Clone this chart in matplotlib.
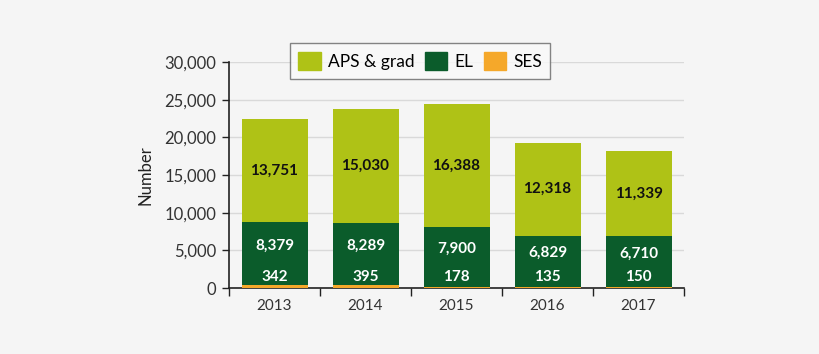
import numpy as np
import matplotlib.pyplot as plt
from matplotlib.patches import Patch

# data
years = ["2013", "2014", "2015", "2016", "2017"]
ses = [342, 395, 178, 135, 150]
el = [8379, 8289, 7900, 6829, 6710]
aps = [13751, 15030, 16388, 12318, 11339]

c_aps = "#afc216"
c_el = "#0b5c2b"
c_ses = "#f5a82a"
bg = "#f5f5f5"

plt.rcParams["font.family"] = ["Lato", "DejaVu Sans"]

fig = plt.figure(figsize=(8.2, 3.54), dpi=100, facecolor=bg)
ax = fig.add_axes([0.2793, 0.1864, 0.5549, 0.6384], facecolor=bg)

x = np.arange(len(years))
w = 0.725
ses = np.array(ses)
el = np.array(el)
aps = np.array(aps)

ax.bar(x, ses, w, color=c_ses, zorder=3)
ax.bar(x, el, w, bottom=ses, color=c_el, zorder=3)
ax.bar(x, aps, w, bottom=ses + el, color=c_aps, zorder=3)

# labels
for i in range(len(years)):
    ax.text(x[i], ses[i] + el[i] + aps[i] / 2, f"{aps[i]:,}", ha="center", va="center",
            fontsize=11, fontweight="bold", color="#111111", zorder=4)
    ax.text(x[i], ses[i] + el[i] / 2 + 1100, f"{el[i]:,}", ha="center", va="center",
            fontsize=11, fontweight="bold", color="white", zorder=4)
    ax.text(x[i], 1450, f"{ses[i]:,}", ha="center", va="center",
            fontsize=11, fontweight="bold", color="white", zorder=4)

ax.set_xlim(-0.5, len(years) - 0.5)
ax.set_ylim(0, 30000)
ax.set_yticks(np.arange(0, 30001, 5000))
ax.set_yticklabels([f"{v:,}" for v in range(0, 30001, 5000)])
ax.yaxis.grid(True, color="#d9d9d9", linewidth=1, zorder=0)

# category boundary ticks, labels centred
ax.set_xticks(np.arange(-0.5, len(years)), minor=False)
ax.set_xticklabels([])
ax.set_xticks(x, minor=True)
ax.set_xticklabels(years, minor=True)
ax.tick_params(axis="x", which="major", length=6, width=1, color="#222222", direction="out")
ax.tick_params(axis="x", which="minor", length=0, pad=8, labelsize=11, labelcolor="#333333")
ax.tick_params(axis="y", length=5, width=1, color="#222222", labelsize=12, labelcolor="#333333", pad=4)

for s in ["top", "right"]:
    ax.spines[s].set_visible(False)
for s in ["left", "bottom"]:
    ax.spines[s].set_color("#222222")
    ax.spines[s].set_linewidth(1.2)

ax.set_ylabel("Number", fontsize=12, color="#222222", labelpad=8)

handles = [Patch(color=c_aps, label="APS & grad"), Patch(color=c_el, label="EL"),
           Patch(color=c_ses, label="SES")]
leg = fig.legend(handles=handles, loc="center", bbox_to_anchor=(420 / 820, 1 - 61 / 354),
                 ncol=3, fontsize=12.5, frameon=True, fancybox=False,
                 handlelength=1.3, handleheight=1.3, handletextpad=0.4, columnspacing=0.6,
                 borderpad=0.5)
leg.get_frame().set_edgecolor("#666666")
leg.get_frame().set_facecolor("#fafafa")
leg.get_frame().set_linewidth(1)

fig.savefig("out.png", dpi=100, facecolor=bg)
